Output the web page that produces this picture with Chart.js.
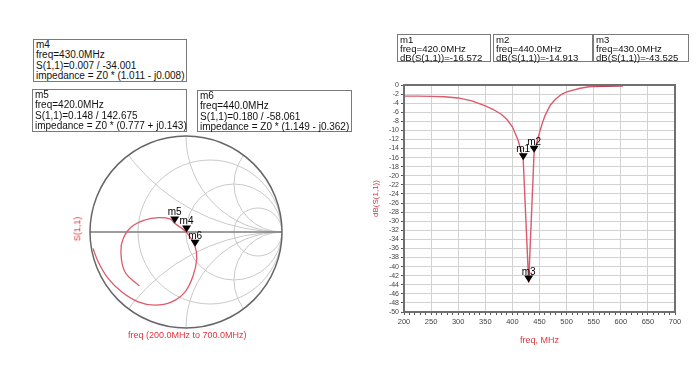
<!DOCTYPE html>
<html>
<head>
<meta charset="utf-8">
<script src="https://cdn.jsdelivr.net/npm/chart.js@4.4.1/dist/chart.umd.min.js"></script>
<style>
  body { margin: 0; background: #fff; width: 700px; height: 370px; position: relative; overflow: hidden;
         font-family: Arial, "Liberation Sans", sans-serif; }
  canvas { position: absolute; top: 0; }
  #smith { left: 0; }
  #dbPlot { left: 360px; }
  .box { position: absolute; border: 1px solid #7a7a7a; background: #fff; font-size: 10px; color: #111;
         padding: 0 0 0 2px; box-sizing: border-box; white-space: nowrap; }
  .box.l { line-height: 10.3px; }
  .box.r { line-height: 8.8px; padding-top: 1px; font-size: 9.6px; }
  .lbl { position: absolute; color: #e0353d; font-size: 9px; white-space: nowrap; }
</style>
</head>
<body>
<canvas id="smith" width="360" height="370"></canvas>
<canvas id="dbPlot" width="340" height="370"></canvas>

<div class="box l" style="left:33px;top:39px;width:154px;height:43px">m4<br>freq=430.0MHz<br>S(1,1)=0.007 / -34.001<br>impedance = Z0 * (1.011 - j0.008)</div>
<div class="box l" style="left:32px;top:89px;width:155px;height:43px">m5<br>freq=420.0MHz<br>S(1,1)=0.148 / 142.675<br>impedance = Z0 * (0.777 + j0.143)</div>
<div class="box l" style="left:197px;top:90px;width:155px;height:42px">m6<br>freq=440.0MHz<br>S(1,1)=0.180 / -58.061<br>impedance = Z0 * (1.149 - j0.362)</div>

<div class="box r" style="left:397px;top:34px;width:94px;height:28px">m1<br>freq=420.0MHz<br>dB(S(1,1))=-16.572</div>
<div class="box r" style="left:493px;top:34px;width:100px;height:28px">m2<br>freq=440.0MHz<br>dB(S(1,1))=-14.913</div>
<div class="box r" style="left:593px;top:34px;width:96px;height:28px">m3<br>freq=430.0MHz<br>dB(S(1,1))=-43.525</div>

<div class="lbl" style="left:65px;top:224px;transform:rotate(-90deg);transform-origin:center">S(1,1)</div>
<div class="lbl" style="left:128px;top:330px">freq (200.0MHz to 700.0MHz)</div>

<script>
// S11 magnitude in dB vs frequency (right plot)
const freqMHz = [200, 225, 250, 275, 300, 325, 350, 365, 380, 390, 400, 410, 415, 420, 430, 440, 445, 450, 455, 460, 470, 480, 490, 500, 525, 550, 575, 600, 650, 700];
const s11dB = [-2.45, -2.45, -2.5, -2.6, -2.85, -3.5, -4.6, -5.4, -6.5, -7.6, -9.2, -12.0, -14.0, -16.572, -43.525, -14.913, -12.7, -10.5, -8.5, -6.8, -4.4, -3.1, -2.1, -1.5, -0.72, -0.22, -0.1, -0.05, -0.02, -0.01];
// darker overlapped stretch along the top edge
const overlapFreq = [546, 604];
const overlapDb = [-0.2, -0.06];

const dbTicks = [];
for (let v = -50; v <= 0; v += 2) dbTicks.push(v);

// S11 on the Smith chart, 200 MHz -> 700 MHz (real / imaginary reflection coefficient)
const smithRe = [-0.487, -0.637, -0.678, -0.654, -0.567, -0.428, -0.289, -0.167, -0.118, 0.006, 0.095, 0.112, 0.076, -0.010, -0.149, -0.324, -0.498, -0.671, -0.811, -0.915, -0.968];
const smithIm = [-0.561, -0.414, -0.206, -0.067, 0.055, 0.125, 0.149, 0.136, 0.090, -0.004, -0.153, -0.276, -0.449, -0.623, -0.728, -0.762, -0.728, -0.623, -0.484, -0.310, -0.171];

// markers
const dbMarkName = ['m1', 'm2', 'm3'];
const dbMarkFreq = [420, 440, 430];
const dbMarkVal = [-16.572, -14.913, -43.525];

const smMarkName = ['m4', 'm5', 'm6'];
const smMarkMag = [0.007, 0.148, 0.180];
const smMarkAng = [-34.001, 142.675, -58.061];

// Smith grid values
const rCircles = [1 / 3, 1, 3];
const xArcs = [0.5, 1, 2, -0.5, -1, -2];

const curveColor = '#dc5a6c';

function drawMarker(ctx, x, y, name) {
  ctx.fillStyle = '#000';
  ctx.beginPath();
  ctx.moveTo(x, y);
  ctx.lineTo(x - 4.5, y - 7);
  ctx.lineTo(x + 4.5, y - 7);
  ctx.closePath();
  ctx.fill();
  ctx.font = '10px Arial, "Liberation Sans"';
  ctx.textAlign = 'center';
  ctx.textBaseline = 'alphabetic';
  ctx.fillText(name, x, y - 8);
}

const smithGrid = {
  id: 'smithGrid',
  beforeDatasetsDraw(chart) {
    const { ctx } = chart;
    const xs = chart.scales.x, ys = chart.scales.y;
    const cx = xs.getPixelForValue(0), cy = ys.getPixelForValue(0);
    const R = xs.getPixelForValue(1) - cx;
    ctx.save();
    ctx.beginPath();
    ctx.arc(cx, cy, R, 0, Math.PI * 2);
    ctx.clip();
    ctx.strokeStyle = '#c9c9c9';
    ctx.lineWidth = 1;
    rCircles.forEach((r) => {
      ctx.beginPath();
      ctx.arc(xs.getPixelForValue(r / (r + 1)), cy, R / (r + 1), 0, Math.PI * 2);
      ctx.stroke();
    });
    xArcs.forEach((x) => {
      ctx.beginPath();
      ctx.arc(xs.getPixelForValue(1), ys.getPixelForValue(1 / x), R / Math.abs(x), 0, Math.PI * 2);
      ctx.stroke();
    });
    ctx.restore();

    ctx.save();
    ctx.strokeStyle = '#7d7d7d';
    ctx.lineWidth = 1.5;
    ctx.beginPath();
    ctx.moveTo(cx - R, cy);
    ctx.lineTo(cx + R, cy);
    ctx.stroke();
    ctx.strokeStyle = '#666';
    ctx.beginPath();
    ctx.arc(cx, cy, R, 0, Math.PI * 2);
    ctx.stroke();
    ctx.restore();
  },
  afterDatasetsDraw(chart) {
    const { ctx } = chart;
    const xs = chart.scales.x, ys = chart.scales.y;
    ctx.save();
    smMarkName.forEach((n, i) => {
      const a = smMarkAng[i] * Math.PI / 180;
      drawMarker(ctx, xs.getPixelForValue(smMarkMag[i] * Math.cos(a)), ys.getPixelForValue(smMarkMag[i] * Math.sin(a)), n);
    });
    ctx.restore();
  },
};

new Chart(document.getElementById('smith'), {
  type: 'scatter',
  data: {
    datasets: [{
      data: smithRe.map((re, i) => ({ x: re, y: smithIm[i] })),
      showLine: true,
      tension: 0.4,
      borderColor: curveColor,
      borderWidth: 1.3,
      pointRadius: 0,
    }],
  },
  options: {
    responsive: false,
    animation: false,
    layout: { padding: { left: 90, top: 136, right: 78, bottom: 42 } },
    plugins: { legend: { display: false }, tooltip: { enabled: false } },
    scales: {
      x: { type: 'linear', min: -1, max: 1, display: false },
      y: { type: 'linear', min: -1, max: 1, display: false },
    },
  },
  plugins: [smithGrid],
});

const dbFrame = {
  id: 'dbFrame',
  afterDatasetsDraw(chart) {
    const { ctx } = chart;
    const xs = chart.scales.x, ys = chart.scales.y;
    ctx.save();
    dbMarkName.forEach((n, i) => {
      drawMarker(ctx, xs.getPixelForValue(dbMarkFreq[i]), ys.getPixelForValue(dbMarkVal[i]), n);
    });
    ctx.restore();
  },
  afterDraw(chart) {
    const { ctx, chartArea: a } = chart;
    ctx.save();
    ctx.strokeStyle = '#707070';
    ctx.lineWidth = 2;
    ctx.strokeRect(a.left, a.top, a.right - a.left, a.bottom - a.top);
    ctx.restore();
  },
};

new Chart(document.getElementById('dbPlot'), {
  type: 'scatter',
  data: {
    datasets: [
      {
        data: freqMHz.map((f, i) => ({ x: f, y: s11dB[i] })),
        showLine: true,
        borderColor: curveColor,
        borderWidth: 1.4,
        pointRadius: 0,
      },
      {
        data: overlapFreq.map((f, i) => ({ x: f, y: overlapDb[i] })),
        showLine: true,
        borderColor: '#a3253a',
        borderWidth: 2.5,
        pointRadius: 0,
      },
    ],
  },
  options: {
    responsive: false,
    animation: false,
    layout: { padding: { left: 9, top: 85, right: 25, bottom: 22 } },
    plugins: { legend: { display: false }, tooltip: { enabled: false } },
    scales: {
      x: {
        type: 'linear',
        min: 200,
        max: 700,
        afterFit: (s) => { s.height = 36; },
        ticks: {
          stepSize: 10,
          autoSkip: false,
          maxRotation: 0,
          padding: 2,
          color: '#444',
          font: { size: 7.5 },
          callback: (v) => (v % 50 === 0 ? v : ''),
        },
        grid: {
          color: (c) => (c.tick && c.tick.value % 50 === 0 ? '#d2d2d2' : 'rgba(0,0,0,0)'),
          tickColor: '#555',
          tickLength: 3,
        },
        border: { display: false },
        title: { display: true, text: 'freq, MHz', color: '#e0353d', font: { size: 9 }, padding: { top: 4, bottom: 2 } },
      },
      y: {
        type: 'linear',
        min: -50,
        max: 0,
        afterFit: (s) => { s.width = 35; },
        afterBuildTicks: (s) => { s.ticks = dbTicks.map((v) => ({ value: v })); },
        ticks: {
          autoSkip: false,
          padding: 2,
          color: '#444',
          font: { size: 7 },
        },
        grid: { color: '#d2d2d2', tickColor: '#555', tickLength: 3 },
        border: { display: false },
        title: { display: true, text: 'dB(S(1,1))', color: '#e0353d', font: { size: 8 }, padding: { top: 2, bottom: 0 } },
      },
    },
  },
  plugins: [dbFrame],
});
</script>
</body>
</html>
